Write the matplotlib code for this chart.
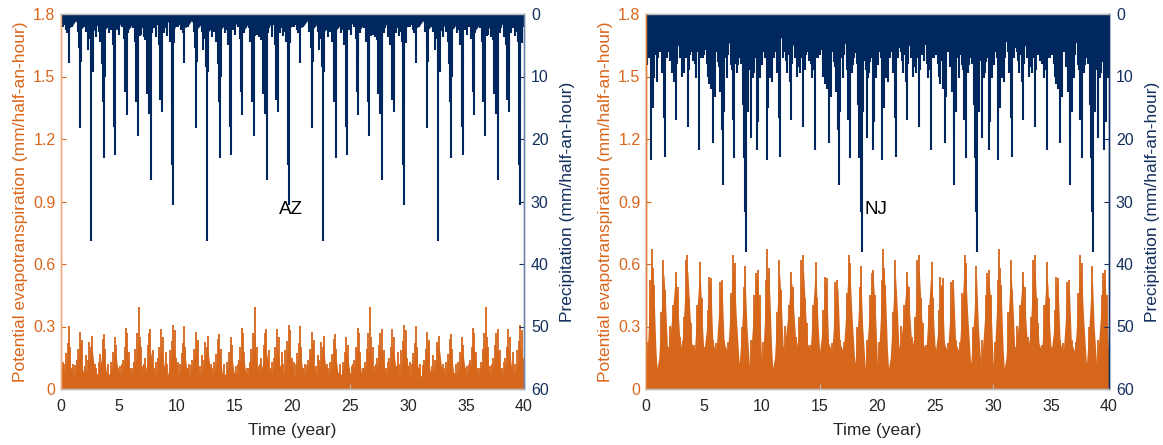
import numpy as np
import matplotlib
matplotlib.use("Agg")
import matplotlib.pyplot as plt

plt.rcParams['font.family'] = ['Liberation Sans', 'DejaVu Sans']

# ---------------- data (one decade; the record repeats every 10 years) ----------------
decade_offsets = [0, 10, 20, 30]

# AZ potential evapotranspiration: solid envelope and spikes (mm/half-an-hour)
az_pet_env_t = [0.00, 0.15, 0.35, 0.55, 0.68, 0.85, 1.10, 1.35, 1.55, 1.68, 1.88,
                2.15, 2.35, 2.55, 2.70, 2.90, 3.15, 3.40, 3.60, 3.72, 3.92,
                4.20, 4.45, 4.62, 4.76, 4.95, 5.20, 5.45, 5.63, 5.75, 5.95,
                6.20, 6.45, 6.65, 6.78, 6.98, 7.20, 7.45, 7.62, 7.78, 7.98,
                8.22, 8.45, 8.62, 8.80, 8.98, 9.22, 9.45, 9.65, 9.80, 10.0]
az_pet_env_v = [0.10, 0.06, 0.10, 0.16, 0.19, 0.10, 0.06, 0.11, 0.17, 0.18, 0.09,
                0.07, 0.12, 0.18, 0.19, 0.09, 0.07, 0.12, 0.19, 0.17, 0.08,
                0.07, 0.11, 0.18, 0.16, 0.08, 0.07, 0.13, 0.20, 0.17, 0.08,
                0.07, 0.14, 0.22, 0.18, 0.08, 0.07, 0.13, 0.20, 0.17, 0.08,
                0.07, 0.13, 0.20, 0.16, 0.08, 0.07, 0.13, 0.21, 0.17, 0.10]
az_pet_spk_t = [0.05, 0.14, 0.30, 0.43, 0.58, 0.66, 0.75, 0.95, 1.05, 1.24, 1.35, 1.50,
                1.65, 1.75, 1.82, 2.05, 2.16, 2.30, 2.45, 2.60, 2.68, 2.97, 3.05, 3.25,
                3.40, 3.60, 3.69, 3.80, 4.10, 4.33, 4.50, 4.65, 4.76, 4.90, 5.10, 5.25,
                5.34, 5.50, 5.63, 5.71, 5.85, 6.05, 6.20, 6.30, 6.42, 6.55, 6.72, 6.80,
                6.93, 7.10, 7.20, 7.30, 7.50, 7.59, 7.73, 7.94, 8.10, 8.25, 8.37, 8.50,
                8.63, 8.80, 9.00, 9.09, 9.20, 9.38, 9.55, 9.67, 9.81, 9.92]
az_pet_spk_v = [0.11, 0.131, 0.12, 0.171, 0.22, 0.302, 0.20, 0.10, 0.12, 0.115, 0.14, 0.19,
                0.275, 0.22, 0.235, 0.11, 0.163, 0.14, 0.227, 0.20, 0.254, 0.12, 0.10, 0.13,
                0.17, 0.238, 0.264, 0.19, 0.12, 0.13, 0.18, 0.248, 0.211, 0.10, 0.11, 0.12,
                0.139, 0.20, 0.291, 0.267, 0.18, 0.10, 0.099, 0.13, 0.19, 0.267, 0.395, 0.25,
                0.203, 0.11, 0.12, 0.147, 0.21, 0.267, 0.286, 0.187, 0.10, 0.13, 0.147, 0.20,
                0.286, 0.251, 0.11, 0.179, 0.12, 0.187, 0.23, 0.307, 0.283, 0.15]

# AZ precipitation: top band and spikes (mm/half-an-hour)
az_pr_band_v = [1.3, 1.0, 1.5, 2.2, 1.8, 1.1, 1.6, 2.4, 1.9, 1.2, 1.7, 2.8, 2.3, 1.3,
                1.8, 2.6, 2.1, 1.1, 1.6, 2.5, 2.0, 1.2, 1.8, 2.7, 2.1, 1.2, 1.7, 2.6,
                2.2, 1.3, 1.8, 2.8, 2.0, 1.1, 1.6, 2.4, 2.1, 1.2, 1.7, 2.7, 1.3]
az_pr_spk_t = [0.05, 0.14, 0.24, 0.40, 0.50, 0.66, 0.81, 0.95, 1.10, 1.30, 1.45, 1.58,
               1.65, 1.73, 1.96, 2.16, 2.30, 2.45, 2.55, 2.60, 2.66, 2.74, 2.90, 3.03,
               3.26, 3.40, 3.55, 3.61, 3.72, 3.78, 3.90, 4.18, 4.35, 4.47, 4.62, 4.70,
               4.90, 5.05, 5.28, 5.45, 5.57, 5.62, 5.68, 5.80, 5.97, 6.20, 6.35, 6.50,
               6.58, 6.64, 6.80, 6.93, 7.13, 7.30, 7.42, 7.60, 7.70, 7.77, 7.90, 8.00,
               8.23, 8.37, 8.45, 8.57, 8.68, 8.74, 8.90, 9.03, 9.20, 9.38, 9.45, 9.58,
               9.62, 9.67, 9.80, 9.96]
az_pr_spk_v = [1.5, 2.1, 1.8, 2.5, 3.0, 7.8, 1.0, 2.0, 1.5, 0.8, 2.8, 5.5,
               18.2, 7.6, 2.1, 2.9, 5.8, 4.0, 8.5, 36.3, 9.0, 9.2, 2.5, 3.7,
               2.9, 4.5, 8.0, 14.1, 23.1, 10.0, 2.3, 3.1, 2.5, 5.0, 18.1, 22.5,
               2.6, 3.4, 2.1, 4.0, 12.5, 7.0, 16.1, 3.0, 1.8, 2.3, 4.5, 14.1,
               10.0, 19.5, 3.5, 3.4, 3.7, 4.2, 12.8, 16.0, 14.0, 26.6, 3.0, 2.3,
               3.7, 1.8, 5.0, 13.8, 9.0, 15.6, 3.0, 2.3, 3.5, 2.9, 4.5, 24.2,
               14.0, 30.5, 4.7, 2.1]

# NJ potential evapotranspiration
nj_pet_env_t = [0.00, 0.14, 0.30, 0.45, 0.55, 0.70, 0.85, 0.95, 1.10, 1.30, 1.45, 1.55,
                1.70, 1.87, 2.05, 2.30, 2.50, 2.62, 2.80, 2.97, 3.15, 3.35, 3.50, 3.62,
                3.78, 3.95, 4.18, 4.40, 4.60, 4.72, 4.88, 5.00, 5.25, 5.45, 5.60, 5.78,
                6.05, 6.25, 6.45, 6.58, 6.75, 7.05, 7.30, 7.48, 7.62, 7.80, 8.05, 8.25,
                8.45, 8.55, 8.72, 8.95, 9.10, 9.35, 9.50, 9.62, 9.80, 10.0]
nj_pet_env_v = [0.12, 0.22, 0.40, 0.55, 0.56, 0.45, 0.20, 0.10, 0.15, 0.35, 0.52, 0.55,
                0.40, 0.18, 0.25, 0.38, 0.52, 0.50, 0.35, 0.20, 0.25, 0.45, 0.58, 0.56,
                0.38, 0.22, 0.18, 0.38, 0.55, 0.50, 0.30, 0.18, 0.30, 0.50, 0.50, 0.22,
                0.18, 0.35, 0.50, 0.48, 0.22, 0.18, 0.40, 0.58, 0.56, 0.35, 0.12, 0.28,
                0.48, 0.55, 0.30, 0.10, 0.22, 0.42, 0.52, 0.54, 0.40, 0.12]
nj_pet_spk_t = [0.14, 0.37, 0.49, 0.60, 0.65, 1.30, 1.50, 1.64, 1.87, 2.05, 2.33, 2.56,
                2.74, 2.97, 3.25, 3.43, 3.57, 3.74, 3.89, 4.18, 4.41, 4.67, 4.81, 4.98,
                5.33, 5.44, 5.62, 5.76, 6.05, 6.36, 6.54, 6.77, 7.11, 7.34, 7.52, 7.66,
                8.09, 8.27, 8.50, 8.55, 9.07, 9.36, 9.50, 9.65, 9.82]
nj_pet_spk_v = [0.227, 0.523, 0.670, 0.579, 0.50, 0.371, 0.619, 0.475, 0.203, 0.302, 0.403, 0.563,
                0.491, 0.251, 0.347, 0.619, 0.643, 0.435, 0.315, 0.211, 0.403, 0.611, 0.435, 0.203,
                0.379, 0.539, 0.531, 0.235, 0.219, 0.515, 0.523, 0.235, 0.227, 0.459, 0.643, 0.603,
                0.123, 0.299, 0.491, 0.590, 0.235, 0.451, 0.555, 0.571, 0.451]

# NJ precipitation
nj_pr_band_v = [4.0, 3.2, 4.5, 3.8, 5.0, 3.0, 4.2, 3.6, 4.8, 3.4, 4.0, 5.2, 3.5, 4.4,
                3.0, 4.6, 3.8, 5.0, 3.3, 4.2, 4.8, 3.6, 4.4, 3.1, 4.7, 3.9, 5.3, 3.4,
                4.1, 4.9, 3.2, 4.5, 3.7, 5.1, 4.0, 3.3, 4.6, 3.9, 5.4, 3.5, 4.0]
nj_pr_spk_t = [0.06, 0.20, 0.30, 0.43, 0.58, 0.72, 0.80, 0.92, 1.05, 1.15, 1.25, 1.35,
               1.45, 1.53, 1.61, 1.80, 1.95, 2.02, 2.10, 2.22, 2.35, 2.45, 2.56, 2.65,
               2.74, 2.90, 3.08, 3.20, 3.31, 3.45, 3.54, 3.60, 3.70, 3.83, 3.95, 4.05,
               4.12, 4.25, 4.35, 4.47, 4.55, 4.61, 4.75, 4.90, 5.05, 5.18, 5.25, 5.33,
               5.44, 5.50, 5.62, 5.70, 5.79, 5.88, 5.96, 6.10, 6.25, 6.30, 6.42, 6.50,
               6.60, 6.65, 6.77, 6.90, 7.00, 7.10, 7.34, 7.40, 7.49, 7.63, 7.70, 7.82,
               7.92, 8.00, 8.09, 8.20, 8.35, 8.44, 8.55, 8.62, 8.70, 8.78, 8.90, 9.00,
               9.07, 9.15, 9.21, 9.30, 9.36, 9.45, 9.59, 9.70, 9.78, 9.88, 9.95]
nj_pr_spk_v = [8.2, 6.0, 7.0, 23.4, 15.1, 10.3, 6.5, 10.9, 7.0, 4.5, 6.0, 9.5,
               8.0, 16.7, 22.9, 7.0, 5.5, 6.1, 7.5, 9.5, 6.5, 10.9, 17.0, 8.0,
               5.0, 7.0, 10.1, 8.5, 9.5, 7.0, 6.1, 18.1, 9.0, 6.6, 6.0, 7.5,
               5.0, 8.0, 10.3, 6.1, 9.0, 21.8, 7.1, 7.0, 6.5, 5.8, 8.0, 10.1,
               11.2, 7.5, 12.0, 9.0, 20.7, 7.0, 13.3, 6.0, 7.7, 8.5, 12.5, 9.5,
               18.6, 27.3, 15.7, 7.0, 10.3, 6.5, 8.2, 9.0, 17.0, 23.1, 8.0, 9.5,
               8.2, 7.0, 6.3, 8.0, 14.6, 23.1, 31.7, 38.1, 12.0, 15.7, 7.5, 9.0,
               19.9, 8.0, 10.3, 9.5, 7.7, 7.0, 21.8, 17.3, 8.0, 10.3, 6.5]

site_names = ["AZ", "NJ"]
x_ticks = [0, 5, 10, 15, 20, 25, 30, 35, 40]
pet_ticks = [0, 0.3, 0.6, 0.9, 1.2, 1.5, 1.8]
pet_ticklabels = ["0", "0.3", "0.6", "0.9", "1.2", "1.5", "1.8"]
pr_ticks = [0, 10, 20, 30, 40, 50, 60]

# ---------------- style ----------------
ORANGE = "#D6661A"
ORANGE_TXT = "#D9661C"
NAVY = "#00285F"
NAVY_TXT = "#14305E"
GRAY_TXT = "#262626"


def tile(t, v):
    t = np.asarray(t, float)
    v = np.asarray(v, float)
    return (np.concatenate([t + o for o in decade_offsets]),
            np.concatenate([v for _ in decade_offsets]))


band_t = np.linspace(0, 10, len(az_pr_band_v))

sites = [
    dict(name=site_names[0], pet_env=(az_pet_env_t, az_pet_env_v), pet_spk=(az_pet_spk_t, az_pet_spk_v),
         pr_band=(band_t, az_pr_band_v), pr_spk=(az_pr_spk_t, az_pr_spk_v),
         lspine="#EDAA78", rspine="#6F84AA"),
    dict(name=site_names[1], pet_env=(nj_pet_env_t, nj_pet_env_v), pet_spk=(nj_pet_spk_t, nj_pet_spk_v),
         pr_band=(band_t, nj_pr_band_v), pr_spk=(nj_pr_spk_t, nj_pr_spk_v),
         lspine="#DD7A36", rspine="#102E62"),
]

fig = plt.figure(figsize=(11.63, 4.45), dpi=100)
lefts = [61 / 1163, 646 / 1163]
W = 463 / 1163
B = 56 / 445
H = 375 / 445

for i, s in enumerate(sites):
    ax = fig.add_axes([lefts[i], B, W, H])
    ax2 = ax.twinx()

    # PET (left axis)
    t, v = tile(*s["pet_env"])
    ax.fill_between(t, 0, v, color=ORANGE, lw=0)
    t, v = tile(*s["pet_spk"])
    ax.vlines(t, 0, v, color=ORANGE, lw=1.3)
    ax.set_xlim(0, 40)
    ax.set_ylim(0, 1.8)
    ax.set_xticks(x_ticks)
    ax.set_xticklabels([str(x) for x in x_ticks])
    ax.set_yticks(pet_ticks)
    ax.set_yticklabels(pet_ticklabels)

    # Precipitation (right axis, inverted)
    t, v = tile(*s["pr_band"])
    ax2.fill_between(t, 0, v, color=NAVY, lw=0)
    t, v = tile(*s["pr_spk"])
    ax2.vlines(t, 0, v, color=NAVY, lw=1.5)
    ax2.set_ylim(60, 0)
    ax2.set_yticks(pr_ticks)
    ax2.set_yticklabels([str(p) for p in pr_ticks])

    # spines & ticks
    for a in (ax, ax2):
        a.spines['top'].set_color("#BDBDBD")
        a.spines['bottom'].set_color("#BDBDBD")
        a.spines['left'].set_color(s["lspine"])
        a.spines['right'].set_color(s["rspine"])
        for sp in a.spines.values():
            sp.set_linewidth(1.0)
    ax.tick_params(axis='x', direction='in', length=3.5, colors="#BDBDBD",
                   labelcolor=GRAY_TXT, labelsize=11.5, pad=7, top=True)
    ax.tick_params(axis='y', direction='in', length=3.5, color=ORANGE_TXT,
                   labelcolor=ORANGE_TXT, labelsize=11.5, pad=4)
    ax2.tick_params(axis='y', direction='in', length=3.5, color=NAVY_TXT,
                    labelcolor=NAVY_TXT, labelsize=11.5, pad=5)

    ax.set_xlabel("Time (year)", fontsize=12.5, color=GRAY_TXT, labelpad=7)
    ax.set_ylabel("Potential evapotranspiration (mm/half-an-hour)", fontsize=12.5,
                  color=ORANGE_TXT, labelpad=4)
    ax2.set_ylabel("Precipitation (mm/half-an-hour)", fontsize=12.5,
                   color=NAVY_TXT, labelpad=8)

    ax.text(19.9, 0.86, s["name"], fontsize=13.5, color="black",
            ha="center", va="center")

fig.savefig("out.png", dpi=100)
